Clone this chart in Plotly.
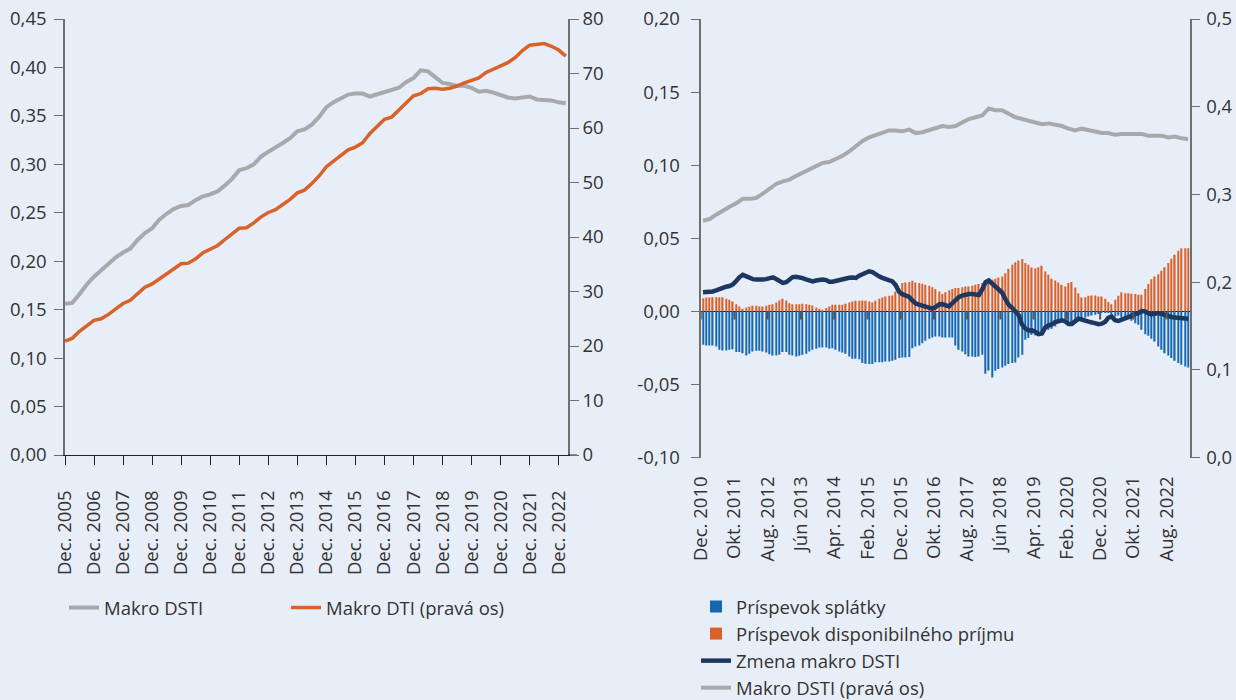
import pandas as pd
import plotly.graph_objects as go

# ---------------- Left panel data ----------------
left_dates = pd.date_range("2005-12-01", periods=70, freq="3MS")
makro_dsti = [
    0.156, 0.157, 0.166, 0.176, 0.184, 0.191, 0.197, 0.204, 0.209, 0.213,
    0.222, 0.229, 0.234, 0.243, 0.249, 0.254, 0.257, 0.258, 0.263, 0.267,
    0.269, 0.272, 0.278, 0.285, 0.294, 0.296, 0.300, 0.308, 0.313, 0.317,
    0.322, 0.327, 0.334, 0.336, 0.341, 0.349, 0.359, 0.364, 0.368, 0.372,
    0.373, 0.373, 0.370, 0.372, 0.375, 0.377, 0.379, 0.385, 0.389, 0.397,
    0.396, 0.390, 0.384, 0.383, 0.381, 0.381, 0.379, 0.375, 0.376, 0.374,
    0.371, 0.369, 0.368, 0.369, 0.370, 0.367, 0.367, 0.366, 0.364, 0.363,
]
makro_dti = [
    20.9, 21.4, 22.7, 23.8, 24.7, 25.0, 25.8, 26.8, 27.8, 28.4,
    29.7, 30.8, 31.4, 32.3, 33.3, 34.3, 35.1, 35.2, 36.0, 37.1,
    37.7, 38.4, 39.5, 40.6, 41.6, 41.7, 42.6, 43.7, 44.5, 45.0,
    45.9, 46.9, 48.1, 48.6, 49.8, 51.2, 52.9, 53.9, 55.0, 56.0,
    56.5, 57.3, 59.0, 60.2, 61.6, 62.0, 63.3, 64.6, 65.9, 66.3,
    67.2, 67.3, 67.1, 67.3, 67.7, 68.3, 68.8, 69.2, 70.2, 70.8,
    71.4, 72.0, 72.9, 74.2, 75.2, 75.3, 75.5, 75.0, 74.3, 73.2,
]
left_tick_dates = pd.date_range("2005-12-01", "2022-12-01", freq="12MS")
left_tick_text = [f"Dec. {y}" for y in range(2005, 2023)]
dsti_ticks = [0.0, 0.05, 0.10, 0.15, 0.20, 0.25, 0.30, 0.35, 0.40, 0.45]
dsti_tick_text = ["0,00", "0,05", "0,10", "0,15", "0,20", "0,25", "0,30", "0,35", "0,40", "0,45"]
dti_ticks = [0, 10, 20, 30, 40, 50, 60, 70, 80]
dti_tick_text = ["0", "10", "20", "30", "40", "50", "60", "70", "80"]

# ---------------- Right panel data ----------------
months = pd.date_range("2010-12-01", periods=147, freq="MS")
prispevok_prijmu = [
    0.0091, 0.0096, 0.0096, 0.0098, 0.0098, 0.0098, 0.0098, 0.0087, 0.0080, 0.0068,
    0.0050, 0.0034, 0.0018, 0.0027, 0.0034, 0.0039, 0.0039, 0.0034, 0.0034, 0.0039,
    0.0046, 0.0050, 0.0062, 0.0075, 0.0087, 0.0075, 0.0057, 0.0050, 0.0050, 0.0050,
    0.0052, 0.0050, 0.0046, 0.0041, 0.0027, 0.0018, 0.0011, 0.0023, 0.0034, 0.0046,
    0.0046, 0.0046, 0.0046, 0.0052, 0.0062, 0.0068, 0.0073, 0.0073, 0.0075, 0.0073,
    0.0068, 0.0062, 0.0073, 0.0087, 0.0096, 0.0103, 0.0107, 0.0109, 0.0137, 0.0160,
    0.0194, 0.0198, 0.0201, 0.0210, 0.0198, 0.0194, 0.0189, 0.0182, 0.0176, 0.0166,
    0.0153, 0.0137, 0.0119, 0.0132, 0.0145, 0.0153, 0.0160, 0.0160, 0.0166, 0.0171,
    0.0171, 0.0176, 0.0182, 0.0187, 0.0194, 0.0201, 0.0212, 0.0217, 0.0223, 0.0233,
    0.0239, 0.0262, 0.0292, 0.0319, 0.0337, 0.0349, 0.0358, 0.0331, 0.0319, 0.0301,
    0.0296, 0.0303, 0.0312, 0.0274, 0.0251, 0.0223, 0.0212, 0.0198, 0.0182, 0.0171,
    0.0194, 0.0201, 0.0164, 0.0125, 0.0096, 0.0098, 0.0107, 0.0109, 0.0109, 0.0103,
    0.0103, 0.0087, 0.0064, 0.0050, 0.0080, 0.0107, 0.0132, 0.0125, 0.0125, 0.0121,
    0.0119, 0.0114, 0.0114, 0.0153, 0.0187, 0.0221, 0.0239, 0.0255, 0.0278, 0.0303,
    0.0331, 0.0360, 0.0388, 0.0415, 0.0433, 0.0433, 0.0433,
]
prispevok_splatky = [
    -0.0228, -0.0233, -0.0233, -0.0233, -0.0239, -0.0262, -0.0267, -0.0267, -0.0262, -0.0258,
    -0.0278, -0.0278, -0.0285, -0.0301, -0.0290, -0.0274, -0.0269, -0.0269, -0.0274, -0.0280,
    -0.0292, -0.0301, -0.0301, -0.0296, -0.0278, -0.0278, -0.0296, -0.0301, -0.0308, -0.0303,
    -0.0296, -0.0290, -0.0274, -0.0262, -0.0255, -0.0246, -0.0246, -0.0246, -0.0255, -0.0251,
    -0.0262, -0.0274, -0.0280, -0.0290, -0.0308, -0.0324, -0.0324, -0.0326, -0.0353, -0.0358,
    -0.0360, -0.0360, -0.0347, -0.0347, -0.0347, -0.0342, -0.0342, -0.0337, -0.0331, -0.0319,
    -0.0315, -0.0315, -0.0312, -0.0251, -0.0239, -0.0233, -0.0217, -0.0201, -0.0187, -0.0178,
    -0.0171, -0.0171, -0.0178, -0.0178, -0.0178, -0.0178, -0.0233, -0.0262, -0.0274, -0.0292,
    -0.0308, -0.0308, -0.0312, -0.0308, -0.0296, -0.0426, -0.0404, -0.0451, -0.0406, -0.0394,
    -0.0383, -0.0372, -0.0360, -0.0353, -0.0349, -0.0315, -0.0296, -0.0194, -0.0182, -0.0160,
    -0.0164, -0.0155, -0.0137, -0.0119, -0.0125, -0.0119, -0.0103, -0.0080, -0.0064, -0.0057,
    -0.0068, -0.0080, -0.0068, -0.0064, -0.0046, -0.0041, -0.0034, -0.0027, -0.0023, -0.0018,
    -0.0011, -0.0005, -0.0011, -0.0023, -0.0034, -0.0027, -0.0039, -0.0041, -0.0046, -0.0064,
    -0.0080, -0.0091, -0.0125, -0.0155, -0.0166, -0.0187, -0.0205, -0.0239, -0.0262, -0.0285,
    -0.0301, -0.0319, -0.0337, -0.0353, -0.0365, -0.0376, -0.0383,
]
zmena_dsti = [
    0.0132, 0.0132, 0.0135, 0.0137, 0.0144, 0.0155, 0.0162, 0.0169, 0.0174, 0.0185,
    0.0208, 0.0235, 0.0250, 0.0240, 0.0228, 0.0221, 0.0219, 0.0217, 0.0219, 0.0221,
    0.0227, 0.0233, 0.0222, 0.0208, 0.0195, 0.0200, 0.0222, 0.0235, 0.0237, 0.0234,
    0.0228, 0.0220, 0.0212, 0.0206, 0.0212, 0.0219, 0.0219, 0.0215, 0.0203, 0.0203,
    0.0210, 0.0215, 0.0221, 0.0225, 0.0231, 0.0232, 0.0229, 0.0245, 0.0255, 0.0262,
    0.0275, 0.0270, 0.0252, 0.0240, 0.0230, 0.0222, 0.0219, 0.0205, 0.0180, 0.0135,
    0.0118, 0.0108, 0.0100, 0.0075, 0.0055, 0.0047, 0.0040, 0.0030, 0.0020, 0.0020,
    0.0030, 0.0048, 0.0050, 0.0042, 0.0035, 0.0055, 0.0080, 0.0098, 0.0109, 0.0116,
    0.0119, 0.0119, 0.0117, 0.0112, 0.0150, 0.0200, 0.0212, 0.0190, 0.0168, 0.0152,
    0.0130, 0.0085, 0.0045, 0.0025, 0.0005, -0.0025, -0.0090, -0.0117, -0.0130, -0.0128,
    -0.0138, -0.0155, -0.0150, -0.0110, -0.0095, -0.0088, -0.0072, -0.0065, -0.0060, -0.0068,
    -0.0085, -0.0085, -0.0065, -0.0050, -0.0055, -0.0065, -0.0070, -0.0075, -0.0082, -0.0087,
    -0.0083, -0.0070, -0.0042, -0.0035, -0.0060, -0.0065, -0.0056, -0.0050, -0.0042, -0.0030,
    -0.0018, -0.0012, 0.0003, 0.0000, -0.0012, -0.0020, -0.0015, -0.0011, -0.0017, -0.0025,
    -0.0035, -0.0038, -0.0042, -0.0045, -0.0050, -0.0050, -0.0050,
]
dsti_right_dates = months[::2]
makro_dsti_right = [
    0.270, 0.272, 0.277, 0.282, 0.286, 0.290, 0.295, 0.295, 0.296, 0.301,
    0.306, 0.312, 0.315, 0.317, 0.321, 0.325, 0.328, 0.332, 0.336, 0.337,
    0.340, 0.344, 0.349, 0.355, 0.361, 0.365, 0.368, 0.371, 0.373, 0.373,
    0.372, 0.374, 0.370, 0.371, 0.373, 0.375, 0.378, 0.377, 0.378, 0.382,
    0.386, 0.388, 0.390, 0.398, 0.396, 0.396, 0.392, 0.388, 0.386, 0.384,
    0.382, 0.380, 0.381, 0.380, 0.378, 0.375, 0.373, 0.375, 0.373, 0.371,
    0.370, 0.370, 0.368, 0.369, 0.369, 0.370, 0.369, 0.367, 0.367, 0.367,
    0.365, 0.366, 0.364, 0.363,
]
right_tick_dates = months[::10]
right_tick_text = ["Dec. 2010", "Okt. 2011", "Aug. 2012", "Jún 2013", "Apr. 2014",
                   "Feb. 2015", "Dec. 2015", "Okt. 2016", "Aug. 2017", "Jún 2018",
                   "Apr. 2019", "Feb. 2020", "Dec. 2020", "Okt. 2021", "Aug. 2022"]
chg_ticks = [-0.10, -0.05, 0.0, 0.05, 0.10, 0.15, 0.20]
chg_tick_text = ["-0,10", "-0,05", "0,00", "0,05", "0,10", "0,15", "0,20"]
lvl_ticks = [0.0, 0.1, 0.2, 0.3, 0.4, 0.5]
lvl_tick_text = ["0,0", "0,1", "0,2", "0,3", "0,4", "0,5"]

# ---------------- Styles ----------------
W, H = 1236, 700
BG = "#e8eef8"
TXT = "#333333"
GRAY = "#a6aaad"
ORANGE = "#d9622b"
NAVY = "#1c3760"
BLUE = "#1668b0"
AXGRAY = "#6f6f6f"
FONT = "Open Sans"
FS = 18.5


def px_x(p):
    return p / W


def px_y(p):
    return 1 - p / H


fig = go.Figure()

# Left panel traces
fig.add_trace(go.Scatter(x=left_dates, y=makro_dsti, name="Makro DSTI", mode="lines",
                         line=dict(color=GRAY, width=4), xaxis="x", yaxis="y", legend="legend"))
fig.add_trace(go.Scatter(x=left_dates, y=makro_dti, name="Makro DTI (pravá os)", mode="lines",
                         line=dict(color=ORANGE, width=3.5), xaxis="x", yaxis="y2", legend="legend"))

# Right panel traces
fig.add_trace(go.Bar(x=months, y=prispevok_splatky, name="Príspevok splátky",
                     marker=dict(color=BLUE, line=dict(width=0)), xperiod="M1",
                     xperiodalignment="middle", xaxis="x2", yaxis="y3", legend="legend2"))
fig.add_trace(go.Bar(x=months, y=prispevok_prijmu, name="Príspevok disponibilného príjmu",
                     marker=dict(color=ORANGE, line=dict(width=0)), xperiod="M1",
                     xperiodalignment="middle", xaxis="x2", yaxis="y3", legend="legend2"))
fig.add_trace(go.Scatter(x=months, y=zmena_dsti, name="Zmena makro DSTI", mode="lines",
                         line=dict(color=NAVY, width=4.5), xperiod="M1", xperiodalignment="middle",
                         xaxis="x2", yaxis="y3", legend="legend2"))
fig.add_trace(go.Scatter(x=dsti_right_dates, y=makro_dsti_right, name="Makro DSTI (pravá os)",
                         mode="lines", line=dict(color=GRAY, width=4), xperiod="M1",
                         xperiodalignment="middle", xaxis="x2", yaxis="y4", legend="legend2"))

# tick marks sitting on the zero line of the right panel
shapes = []
for d in right_tick_dates:
    shapes.append(dict(type="line", xref="x2", yref="y3", x0=d, x1=d,
                       ysizemode="pixel", yanchor=0, y0=0, y1=-8,
                       line=dict(color="#555555", width=2), layer="above"))
# bottom axis line of the left panel runs on past the right axis
shapes.append(dict(type="line", xref="paper", yref="y", x0=px_x(568), x1=px_x(577),
                   y0=0, y1=0, line=dict(color="#222222", width=1)))

axis_font = dict(family=FONT, size=FS, color=TXT)

fig.update_layout(
    width=W, height=H,
    paper_bgcolor=BG, plot_bgcolor=BG,
    margin=dict(l=0, r=0, t=0, b=0, autoexpand=False),
    font=axis_font,
    barmode="relative", bargap=0.6,
    showlegend=True,
    shapes=shapes,
    xaxis=dict(domain=[px_x(65), px_x(568)], anchor="y", type="date",
               range=["2005-12-01", "2023-03-28"],
               tickvals=list(left_tick_dates), ticktext=left_tick_text, tickangle=-90,
               ticks="outside", ticklen=9, tickcolor="#222222", showline=True,
               linecolor="#222222", linewidth=1, showgrid=False, zeroline=False,
               tickfont=axis_font, ticklabelstandoff=18, automargin=False),
    yaxis=dict(domain=[px_y(455), px_y(19)], anchor="x", range=[0, 0.45],
               tickvals=dsti_ticks, ticktext=dsti_tick_text, ticks="outside", ticklen=9,
               tickcolor=AXGRAY, showline=True, linecolor=AXGRAY, linewidth=1.5,
               showgrid=False, zeroline=False, tickfont=axis_font, automargin=False,
               ticklabelstandoff=4),
    yaxis2=dict(overlaying="y", side="right", anchor="x", range=[0, 80],
                tickvals=dti_ticks, ticktext=dti_tick_text, ticks="outside", ticklen=9,
                tickcolor=AXGRAY, showline=True, linecolor=AXGRAY, linewidth=1.5,
                showgrid=False, zeroline=False, tickfont=axis_font, automargin=False),
    xaxis2=dict(domain=[px_x(701.3), px_x(1189.7)], anchor="y3", type="date",
                range=["2010-12-01", "2023-03-01"],
                tickvals=list(right_tick_dates), ticktext=right_tick_text, tickangle=-90,
                ticks="", showline=False, showgrid=False, zeroline=False,
                tickfont=axis_font, ticklabelstandoff=14, automargin=False),
    yaxis3=dict(domain=[px_y(457.7), px_y(19)], anchor="x2", range=[-0.10, 0.20],
                tickvals=chg_ticks, ticktext=chg_tick_text, ticks="outside", ticklen=9,
                tickcolor=AXGRAY, showline=True, linecolor=AXGRAY, linewidth=1.5,
                showgrid=False, zeroline=True, zerolinecolor="#111111", zerolinewidth=1.2,
                tickfont=axis_font, automargin=False, ticklabelstandoff=7),
    yaxis4=dict(overlaying="y3", side="right", anchor="x2", range=[0, 0.5],
                tickvals=lvl_ticks, ticktext=lvl_tick_text, ticks="outside", ticklen=9,
                tickcolor=AXGRAY, showline=True, linecolor=AXGRAY, linewidth=1.5,
                showgrid=False, zeroline=False, tickfont=axis_font, automargin=False,
                ticklabelstandoff=2),
    legend=dict(orientation="h", x=px_x(64), y=px_y(589), xanchor="left", yanchor="top",
                bgcolor="rgba(0,0,0,0)", font=axis_font, entrywidth=177,
                entrywidthmode="pixels", traceorder="normal"),
    legend2=dict(orientation="v", x=px_x(696), y=px_y(588), xanchor="left", yanchor="top",
                 bgcolor="rgba(0,0,0,0)", font=axis_font, traceorder="normal",
                 tracegroupgap=0),
)

fig.write_html("out.html", config={"displayModeBar": False},
               post_script="document.body.style.margin='0';")
